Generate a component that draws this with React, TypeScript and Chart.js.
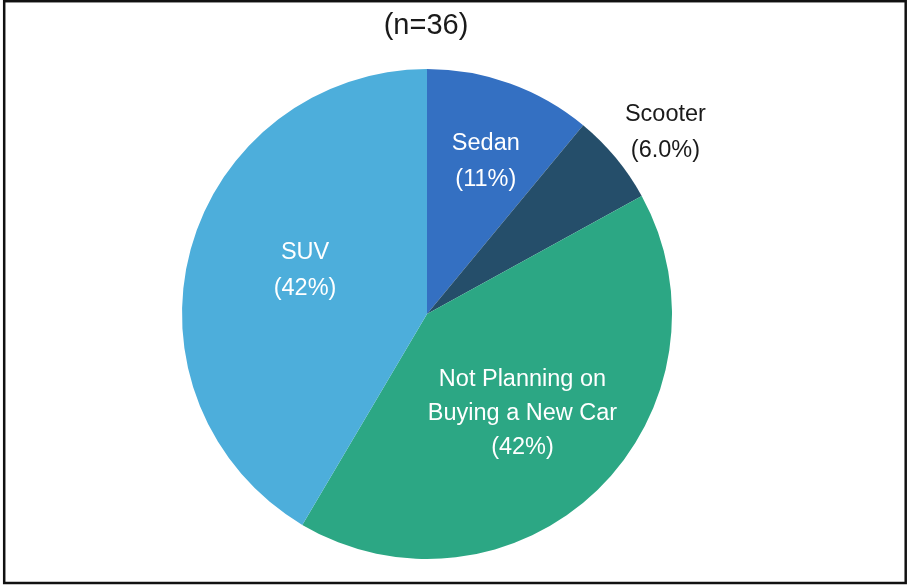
import React, { useEffect, useRef } from "react";
import { Chart, registerables } from "chart.js";

Chart.register(...registerables);

const categories = ["Sedan", "Scooter", "Not Planning on Buying a New Car", "SUV"];
const values = [11, 6, 41.5, 41.5];
const percentLabels = ["(11%)", "(6.0%)", "(42%)", "(42%)"];
const labelLines = [["Sedan"], ["Scooter"], ["Not Planning on", "Buying a New Car"], ["SUV"]];
const colors = ["#3470C2", "#254E6A", "#2CA784", "#4DAEDB"];
const textColors = ["#ffffff", "#1a1a1a", "#ffffff", "#ffffff"];
const labelRadius = [0.67, 1.225, 0.56, 0.53];
const labelAngleShift = [1.2, 2.2, 0, 4.8];
const titleText = "(n=36)";

const FONT = 'Arial, "Liberation Sans", sans-serif';

const labelPlugin = {
  id: "customLabels",
  afterDraw(chart: any) {
    const ctx = chart.ctx;
    const meta = chart.getDatasetMeta(0);
    ctx.save();
    ctx.textAlign = "center";
    ctx.textBaseline = "middle";
    meta.data.forEach((arc: any, i: number) => {
      const { x, y, startAngle, endAngle, outerRadius } = arc.getProps(
        ["x", "y", "startAngle", "endAngle", "outerRadius"],
        true
      );
      const mid = (startAngle + endAngle) / 2 + (labelAngleShift[i] * Math.PI) / 180;
      const r = outerRadius * labelRadius[i];
      const cx = x + Math.cos(mid) * r;
      const cy = y + Math.sin(mid) * r;
      const lines = [...labelLines[i], percentLabels[i]];
      const lh = lines.length > 2 ? 34 : 36;
      const top = cy - ((lines.length - 1) * lh) / 2;
      ctx.fillStyle = textColors[i];
      ctx.font = `23.5px ${FONT}`;
      lines.forEach((t: string, k: number) => ctx.fillText(t, cx, top + k * lh + 1));
    });
    // title
    ctx.fillStyle = "#1a1a1a";
    ctx.font = `29px ${FONT}`;
    ctx.fillText(titleText, 426, 26);
    // frame
    ctx.strokeStyle = "#111111";
    ctx.lineWidth = 2.5;
    ctx.strokeRect(4.2, 1.2, 901.5, 581.8);
    ctx.restore();
  },
};

export default function App() {
  const ref = useRef<HTMLCanvasElement | null>(null);
  useEffect(() => {
    if (!ref.current) return;
    const chart = new Chart(ref.current, {
      type: "pie",
      data: {
        labels: categories,
        datasets: [
          {
            data: values,
            backgroundColor: colors,
            borderWidth: 0,
          },
        ],
      },
      options: {
        responsive: false,
        animation: false,
        layout: { padding: { top: 69, bottom: 26, left: 182, right: 235 } },
        plugins: {
          legend: { display: false },
          tooltip: { enabled: false },
          title: { display: false },
        },
      },
      plugins: [labelPlugin],
    });
    return () => chart.destroy();
  }, []);
  return (
    <div style={{ position: "absolute", left: 0, top: 0, width: 907, height: 585, background: "#fff" }}>
      <canvas ref={ref} width={907} height={585} style={{ display: "block" }} />
    </div>
  );
}
